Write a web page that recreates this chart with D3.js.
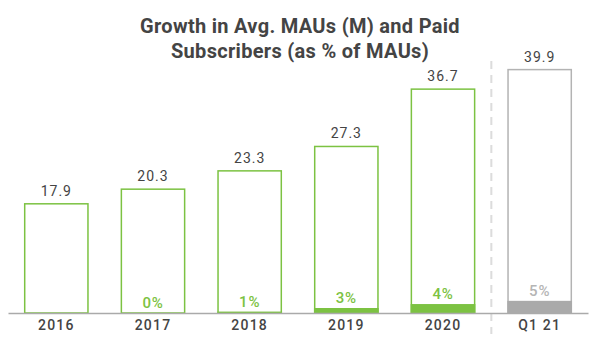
<!DOCTYPE html>
<html>
<head>
<meta charset="utf-8">
<script src="https://cdn.jsdelivr.net/npm/d3@7"></script>
<style>
  html, body { margin: 0; padding: 0; background: #fff; }
  svg { display: block; font-family: Roboto, "Noto Sans", sans-serif; }
</style>
</head>
<body>
<svg id="chart" width="600" height="345"></svg>
<script>
// Average monthly active users (millions) and paid subscribers as % of MAUs
const periods = ["2016", "2017", "2018", "2019", "2020", "Q1 21"];
const maus = [17.9, 20.3, 23.3, 27.3, 36.7, 39.9];
const paidPct = [null, 0, 1, 3, 4, 5];
const titleLines = ["Growth in Avg. MAUs (M) and Paid", "Subscribers (as % of MAUs)"];

const GREEN = "#7cc242";
const GREY = "#b3b3b3";
const TEXT = "#444";

const svg = d3.select("#chart");
const baseY = 313;

const x = d3.scaleBand()
  .domain(periods)
  .range([8, 588])
  .paddingInner(0.33)
  .paddingOuter(0.165);

const y = d3.scaleLinear()
  .domain([0, 40])
  .range([baseY, baseY - 244]);

const data = periods.map((p, i) => ({ p, mau: maus[i], pct: paidPct[i], latest: p === "Q1 21" }));

// Title
svg.append("text")
  .attr("x", 300).attr("y", 33)
  .attr("text-anchor", "middle")
  .style("font-size", "20px").style("font-weight", 700).style("fill", TEXT)
  .style("letter-spacing", "0.3px")
  .selectAll("tspan").data(titleLines).join("tspan")
  .attr("x", 300).attr("dy", (d, i) => i === 0 ? 0 : 25)
  .text(d => d);

// Separator between full years and the latest quarter
const sepX = (x("2020") + x.bandwidth() + x("Q1 21")) / 2;
svg.append("line")
  .attr("x1", sepX).attr("x2", sepX)
  .attr("y1", 61).attr("y2", 334)
  .attr("stroke", "#dcdcdc").attr("stroke-width", 2)
  .attr("stroke-dasharray", "8,6");

// MAU outline bars
svg.selectAll("rect.mau").data(data).join("rect")
  .attr("class", "mau")
  .attr("x", d => x(d.p) + 0.75)
  .attr("y", d => y(d.mau))
  .attr("width", x.bandwidth() - 1.5)
  .attr("height", d => baseY - y(d.mau))
  .attr("fill", "#fff")
  .attr("stroke", d => d.latest ? GREY : GREEN)
  .attr("stroke-width", 1.5);

// Paid subscriber share, drawn on the same MAU scale
const paid = data.filter(d => d.pct !== null);
svg.selectAll("rect.paid").data(paid).join("rect")
  .attr("class", "paid")
  .attr("x", d => x(d.p))
  .attr("y", d => y(d.mau * d.pct / 100))
  .attr("width", x.bandwidth())
  .attr("height", d => baseY - y(d.mau * d.pct / 100))
  .attr("fill", d => d.latest ? "#aaaaaa" : GREEN);

svg.selectAll("text.pct").data(paid).join("text")
  .attr("class", "pct")
  .attr("x", d => x(d.p) + x.bandwidth() / 2)
  .attr("y", d => y(d.mau * d.pct / 100) - 5)
  .attr("text-anchor", "middle")
  .style("font-size", "15px").style("font-weight", 500)
  .style("letter-spacing", "0.8px")
  .style("fill", d => d.latest ? "#b5b5b5" : GREEN)
  .text(d => d.pct + "%");

// Value labels
svg.selectAll("text.val").data(data).join("text")
  .attr("class", "val")
  .attr("x", d => x(d.p) + x.bandwidth() / 2)
  .attr("y", d => y(d.mau) - 8)
  .attr("text-anchor", "middle")
  .style("font-size", "14px").style("fill", TEXT)
  .style("letter-spacing", "1px")
  .text(d => d.mau.toFixed(1));

// Category axis
const axis = svg.append("g")
  .attr("transform", `translate(0,${baseY})`)
  .call(d3.axisBottom(x).tickSize(0).tickPadding(7));
axis.select(".domain").attr("stroke", "#aaa").attr("stroke-width", 1.5);
axis.selectAll("text")
  .style("font-family", "Roboto, sans-serif")
  .style("font-size", "14px").style("font-weight", 500).style("fill", TEXT)
  .style("letter-spacing", "1.2px");
</script>
</body>
</html>
